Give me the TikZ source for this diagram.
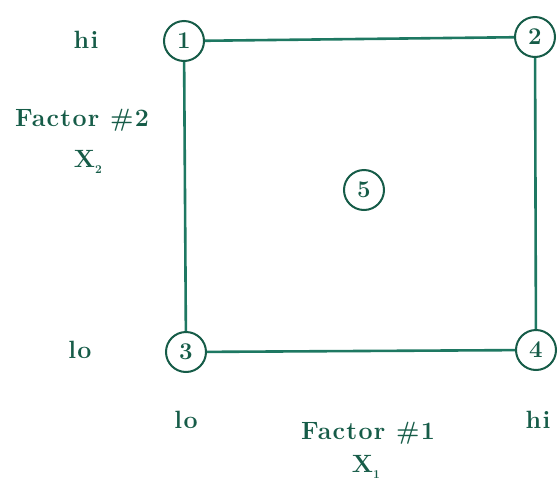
\documentclass[tikz,border=0pt]{standalone}
\usepackage{fontspec}
\newfontfamily\lblfont{Latin Modern Roman}[LetterSpace=5]
\definecolor{linecol}{RGB}{30,120,98}
\definecolor{textcol}{RGB}{22,92,72}
\begin{document}
\begin{tikzpicture}[x=1pt,y=-1pt,
  pt/.style={circle,draw=textcol,line width=2pt,minimum size=40pt,inner sep=0pt,
    text=textcol,font=\fontsize{24}{26}\selectfont\bfseries,fill=white},
  lbl/.style={text=textcol,font=\lblfont\fontsize{25}{27}\selectfont\bfseries,inner sep=0pt,align=center},
  edge/.style={draw=linecol,line width=2.6pt}]
\useasboundingbox[fill=white] (0,0) rectangle (558,483);
\node[pt] (n1) at (184,41) {1};
\node[pt] (n2) at (535,37) {2};
\node[pt] (n3) at (186,352) {3};
\node[pt] (n4) at (536,350) {4};
\node[pt] (n5) at (364,190) {5};
\draw[edge] (n1) -- (n2);
\draw[edge] (n1) -- (n3);
\draw[edge] (n3) -- (n4);
\draw[edge] (n2) -- (n4);
\node[lbl] (hiy) at (86,40) {hi};
\node[lbl] (loy) at (80,350) {lo};
\node[lbl] (f2) at (82,120) {Factor \#2};
\node[lbl] (x2) at (88,162) {X\raisebox{-6pt}{\fontsize{12}{12}\selectfont 2}};
\node[lbl] (lox) at (186,420) {lo};
\node[lbl] (hix) at (538,420) {hi};
\node[lbl] (f1) at (368,433) {Factor \#1};
\node[lbl] (x1) at (366,467) {X\raisebox{-6pt}{\fontsize{12}{12}\selectfont 1}};
\end{tikzpicture}
\end{document}
